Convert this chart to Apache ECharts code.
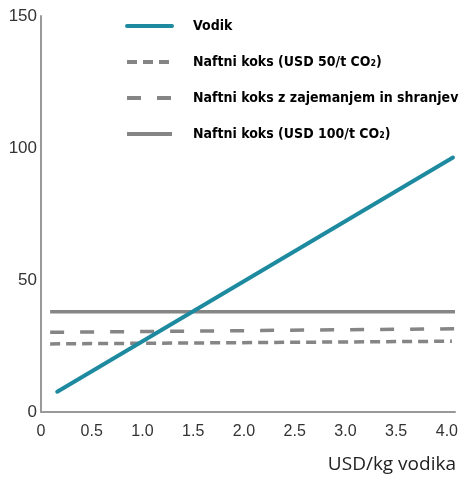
<!DOCTYPE html>
<html>
<head>
<meta charset="utf-8">
<script src="https://cdn.jsdelivr.net/npm/echarts@6/dist/echarts.min.js"></script>
<style>html,body{margin:0;padding:0;background:#fff}#c{width:465px;height:479px}</style>
</head>
<body>
<div id="c"></div>
<script>
var seriesNames = ['Vodik', 'Naftni koks (USD 50/t CO₂)', 'Naftni koks z zajemanjem in shranjev', 'Naftni koks (USD 100/t CO₂)'];
var vodik = [[0.16, 7.7], [4.06, 96.4]];
var koks50 = [[0.09, 25.8], [4.05, 26.8]];
var koksCCS = [[0.09, 30.2], [4.08, 31.5]];
var koks100 = [[0.09, 38.0], [4.08, 38.0]];
var xTicks = ['0', '0.5', '1.0', '1.5', '2.0', '2.5', '3.0', '3.5', '4.0'];
var yTicks = ['0', '50', '100', '150'];
var xUnit = 'USD/kg vodika';

var chart = echarts.init(document.getElementById('c'), null, {renderer: 'canvas'});
var gray = '#858585';
chart.setOption({
  animation: false,
  backgroundColor: '#fff',
  grid: {left: 41, right: 10, top: 16, bottom: 67, containLabel: false},
  title: {
    text: xUnit, right: 4, bottom: 0,
    textStyle: {fontFamily: 'Open Sans', fontWeight: 'normal', fontSize: 19, color: '#222'}
  },
  legend: {
    orient: 'vertical', left: 120, top: 14,
    itemWidth: 45, itemHeight: 14, itemGap: 22,
    data: seriesNames,
    itemStyle: {opacity: 0},
    lineStyle: {width: 4},
    textStyle: {fontFamily: 'DejaVu Sans Condensed', fontWeight: 'bold', fontSize: 14, color: '#000', padding: [0, 0, 0, 16]}
  },
  xAxis: {
    type: 'value', min: 0, max: 4.08, interval: 0.5,
    axisLine: {show: true, lineStyle: {color: '#999', width: 2}},
    axisTick: {show: false},
    splitLine: {show: false},
    axisLabel: {
      margin: 12, fontFamily: 'Liberation Sans', fontSize: 16, color: '#333',
      formatter: function (v) {
        var i = Math.round(v / 0.5);
        if (Math.abs(v - i * 0.5) > 1e-6) return '';
        return xTicks[i] || '';
      }
    }
  },
  yAxis: {
    type: 'value', min: 0, max: 150, interval: 50,
    axisLine: {show: true, lineStyle: {color: '#999', width: 2}},
    axisTick: {show: false},
    splitLine: {show: false},
    axisLabel: {
      margin: 4, fontFamily: 'Liberation Sans', fontSize: 17, color: '#333', padding: [4, 0, 0, 0],
      formatter: function (v) { return yTicks[Math.round(v / 50)] || ''; }
    }
  },
  series: [
    {name: seriesNames[0], type: 'line', data: vodik, symbol: 'none', z: 5,
     lineStyle: {color: '#1e8aa0', width: 4, cap: 'round'}, itemStyle: {color: '#1e8aa0'}},
    {name: seriesNames[1], type: 'line', data: koks50, symbol: 'none',
     lineStyle: {color: gray, width: 3.5, type: [10, 6]}, itemStyle: {color: gray}},
    {name: seriesNames[2], type: 'line', data: koksCCS, symbol: 'none',
     lineStyle: {color: gray, width: 3.5, type: [14, 16]}, itemStyle: {color: gray}},
    {name: seriesNames[3], type: 'line', data: koks100, symbol: 'none',
     lineStyle: {color: gray, width: 3.5}, itemStyle: {color: gray}}
  ]
});
</script>
</body>
</html>
